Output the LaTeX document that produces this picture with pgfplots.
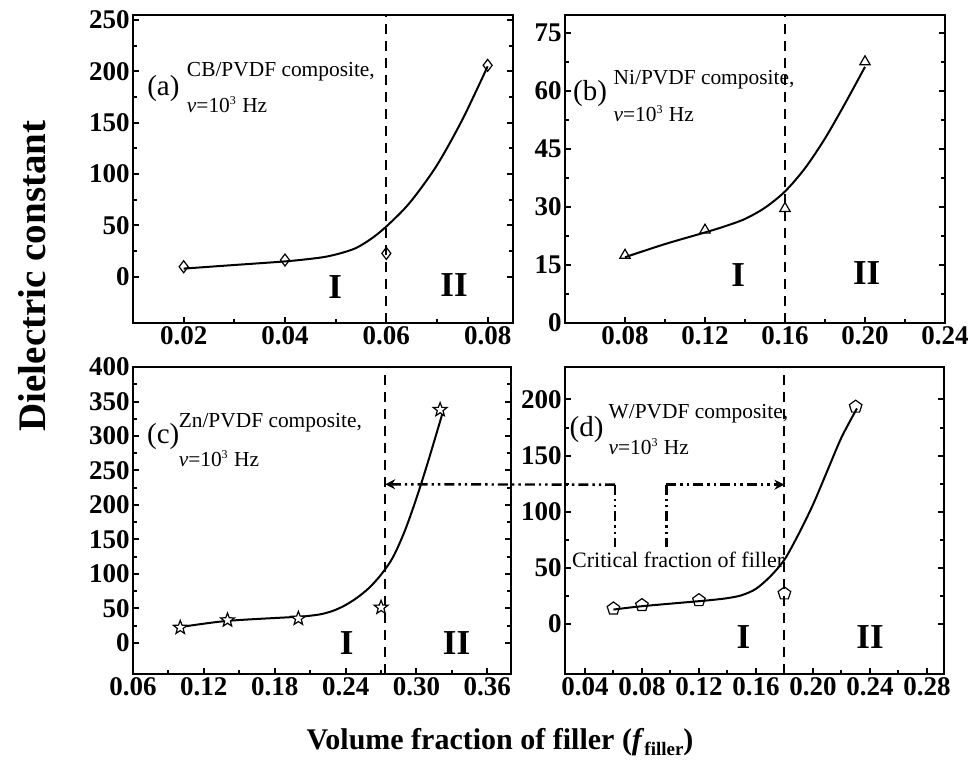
\documentclass[border=0pt]{standalone}
\usepackage{fontspec}
\setmainfont{Liberation Serif}
\usepackage{pgfplots}
\pgfplotsset{compat=1.18}
\usetikzlibrary{plotmarks,arrows.meta}

\pgfdeclareplotmark{fivestar}{%
  \pgfpathmoveto{\pgfpointpolar{90}{\pgfplotmarksize}}%
  \pgfpathlineto{\pgfpointpolar{126}{0.42\pgfplotmarksize}}%
  \pgfpathlineto{\pgfpointpolar{162}{\pgfplotmarksize}}%
  \pgfpathlineto{\pgfpointpolar{198}{0.42\pgfplotmarksize}}%
  \pgfpathlineto{\pgfpointpolar{234}{\pgfplotmarksize}}%
  \pgfpathlineto{\pgfpointpolar{270}{0.42\pgfplotmarksize}}%
  \pgfpathlineto{\pgfpointpolar{306}{\pgfplotmarksize}}%
  \pgfpathlineto{\pgfpointpolar{342}{0.42\pgfplotmarksize}}%
  \pgfpathlineto{\pgfpointpolar{18}{\pgfplotmarksize}}%
  \pgfpathlineto{\pgfpointpolar{54}{0.42\pgfplotmarksize}}%
  \pgfpathclose
  \pgfusepathqfillstroke
}

\tikzset{
  crit/.style={line width=1pt, dash pattern=on 5pt off 3.5pt, black},
  ddot/.style={line width=1.2pt, dash pattern=on 5pt off 2pt on 1.2pt off 2pt on 1.2pt off 2pt},
}
\pgfplotsset{
  panel/.style={
    scale only axis, anchor=south west,
    axis line style={line width=1.4pt},
    tick style={line width=1pt, black},
    major tick length=3pt, minor tick length=2pt,
    tick align=inside,
    xtick pos=left,
    minor x tick num=1, minor y tick num=1,
    scaled ticks=false,
    /pgf/number format/assume math mode=true,
    every tick label/.append style={font=\fontsize{13.5}{14}\selectfont\bfseries, inner sep=1.5pt},
    xticklabel style={/pgf/number format/fixed, /pgf/number format/fixed zerofill, /pgf/number format/precision=2},
    yticklabel style={/pgf/number format/fixed, /pgf/number format/precision=0},
  },
  fitline/.style={smooth, line width=1pt, black, no marks},
  pts/.style={only marks, mark size=3pt, mark options={fill=white, line width=0.6pt, solid}, black},
}
\newcommand{\lab}[1]{\fontsize{14.5}{15}\selectfont #1}
\newcommand{\comp}[1]{\fontsize{10.7}{12}\selectfont #1}
\newcommand{\reg}[1]{\fontsize{17.5}{18}\selectfont\bfseries #1}
\newcommand{\nuline}{\fontsize{10.7}{12}\selectfont{\itshape ν}=10\textsuperscript{\fontsize{6}{6}\selectfont 3} Hz}

\begin{document}
\begin{tikzpicture}
\useasboundingbox (0,0) rectangle (485.5pt,-391pt);

% (a)
\begin{axis}[panel, at={(66.5pt,-161.5pt)}, width=190pt, height=154pt,
  xmin=0.01, xmax=0.085, ymin=-45, ymax=255,
  xtick={0.02,0.04,0.06,0.08}, ytick={0,50,100,150,200,250}]
\addplot[fitline] coordinates {(0.02,8) (0.03,11.5) (0.04,15) (0.045,17.5) (0.048,19.5) (0.051,23) (0.054,28) (0.057,37) (0.06,49) (0.0646,72) (0.0699,108) (0.075,153) (0.08,205)};
\addplot[pts, mark=diamond] coordinates {(0.02,9.8) (0.04,16.3) (0.06,22.8) (0.08,206)};
\draw[crit] (axis cs:0.06,-45) -- (axis cs:0.06,255);
\node at (rel axis cs:0.08,0.762) {\lab{(a)}};
\node[anchor=west, inner sep=0pt] at (rel axis cs:0.141,0.816) {\comp{CB/PVDF composite,}};
\node[anchor=west, inner sep=0pt] at (rel axis cs:0.141,0.708) {\nuline};
\node at (rel axis cs:0.532,0.118) {\reg{I}};
\node at (rel axis cs:0.845,0.123) {\reg{II}};
\end{axis}

% (b)
\begin{axis}[panel, at={(282.5pt,-161.5pt)}, width=190pt, height=154pt,
  xmin=0.05, xmax=0.24, ymin=0, ymax=79.6,
  xtick={0.08,0.12,0.16,0.20,0.24}, ytick={0,15,30,45,60,75}]
\addplot[fitline] coordinates {(0.08,17) (0.10,20.4) (0.12,23.4) (0.13,25.0) (0.14,26.9) (0.15,29.8) (0.16,34.0) (0.17,40.0) (0.18,47.7) (0.19,56.7) (0.20,66.2)};
\addplot[pts, mark=triangle] coordinates {(0.08,17.5) (0.12,24) (0.16,29.6) (0.20,67.5)};
\draw[crit] (axis cs:0.16,0) -- (axis cs:0.16,79.6);
\node at (rel axis cs:0.066,0.746) {\lab{(b)}};
\node[anchor=west, inner sep=0pt] at (rel axis cs:0.127,0.789) {\comp{Ni/PVDF composite,}};
\node[anchor=west, inner sep=0pt] at (rel axis cs:0.127,0.681) {\nuline};
\node at (rel axis cs:0.456,0.156) {\reg{I}};
\node at (rel axis cs:0.794,0.161) {\reg{II}};
\end{axis}

% (c)
\begin{axis}[panel, at={(66.5pt,-337pt)}, width=189pt, height=153.5pt,
  xmin=0.06, xmax=0.38, ymin=-45, ymax=400,
  xtick={0.06,0.12,0.18,0.24,0.30,0.36}, ytick={0,50,100,150,200,250,300,350,400}]
\addplot[fitline] coordinates {(0.10,23) (0.14,32) (0.20,38) (0.21,39.5) (0.22,42) (0.23,47) (0.24,55) (0.25,66) (0.26,80) (0.27,99) (0.28,124) (0.29,162) (0.30,210) (0.31,264) (0.322,333)};
\addplot[pts, mark=fivestar, mark size=3.6pt] coordinates {(0.10,22.3) (0.14,33) (0.20,35.4) (0.27,51.4) (0.32,338)};
\draw[crit] (axis cs:0.2735,-45) -- (axis cs:0.2735,400);
\coordinate (ctip) at (axis cs:0.2735,230);
\node at (rel axis cs:0.08,0.773) {\lab{(c)}};
\node[anchor=west, inner sep=0pt] at (rel axis cs:0.12,0.817) {\comp{Zn/PVDF composite,}};
\node[anchor=west, inner sep=0pt] at (rel axis cs:0.12,0.703) {\nuline};
\node at (rel axis cs:0.565,0.10) {\reg{I}};
\node at (rel axis cs:0.856,0.10) {\reg{II}};
\end{axis}

% (d)
\begin{axis}[panel, at={(282.5pt,-337pt)}, width=189.5pt, height=153.5pt,
  xmin=0.026, xmax=0.292, ymin=-45, ymax=229,
  xtick={0.04,0.08,0.12,0.16,0.20,0.24,0.28}, ytick={0,50,100,150,200}]
\addplot[fitline] coordinates {(0.06,12.5) (0.08,15.5) (0.12,20) (0.13,21.2) (0.14,22.7) (0.15,25.3) (0.16,31) (0.17,42) (0.18,57) (0.19,80) (0.20,106) (0.21,136) (0.22,166) (0.2309,192)};
\addplot[pts, mark=pentagon, mark size=3.3pt] coordinates {(0.06,13.4) (0.08,16.4) (0.12,20.8) (0.18,26.8) (0.23,193.5)};
\draw[crit] (axis cs:0.18,-45) -- (axis cs:0.18,229);
\coordinate (dA) at (axis cs:0.0612,124);
\coordinate (dAl) at (axis cs:0.0612,68.4);
\coordinate (dB) at (axis cs:0.0972,124);
\coordinate (dBl) at (axis cs:0.0972,68.4);
\coordinate (dtip) at (axis cs:0.18,124);
\node at (rel axis cs:0.057,0.795) {\lab{(d)}};
\node[anchor=west, inner sep=0pt] at (rel axis cs:0.114,0.849) {\comp{W/PVDF composite,}};
\node[anchor=west, inner sep=0pt] at (rel axis cs:0.114,0.740) {\nuline};
\node at (rel axis cs:0.471,0.121) {\reg{I}};
\node at (rel axis cs:0.805,0.121) {\reg{II}};
\node[anchor=west, inner sep=0pt] at (rel axis cs:0.018,0.371) {\fontsize{11}{12}\selectfont Critical fraction of filler};
\end{axis}

\draw[ddot, -{Stealth[length=5pt,width=5pt]}] (dA) -- (ctip);
\draw[ddot] (dA) -- (dAl);
\draw[ddot] (dB) -- (dBl);
\draw[ddot, -{Stealth[length=5pt,width=5pt]}] (dB) -- (dtip);

\node[rotate=90] at (16pt,-138pt) {\fontsize{19.5}{20}\selectfont\bfseries Dielectric constant};
\node at (250pt,-371pt) {\fontsize{15}{17}\selectfont\bfseries Volume fraction of filler (\textit{f}\raisebox{-0.5ex}{\fontsize{9.5}{10}\selectfont filler})};
\end{tikzpicture}
\end{document}
